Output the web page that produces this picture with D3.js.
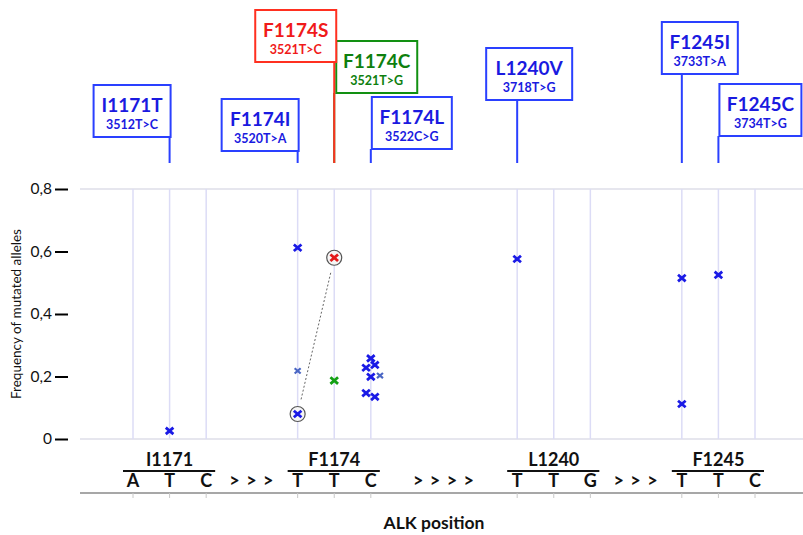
<!DOCTYPE html>
<html>
<head>
<meta charset="utf-8">
<script src="https://cdn.jsdelivr.net/npm/d3@7"></script>
<style>
  html, body { margin: 0; padding: 0; background: #fff; }
  svg { display: block; font-family: Lato, "Open Sans", "DejaVu Sans", sans-serif; }
</style>
</head>
<body>
<svg id="chart" width="803" height="535"></svg>
<script>
// ---------------- DATA ----------------
const nucleotides = ["A","T","C","T","T","C","T","T","G","T","T","C"];
const ntPositions = [0, 1, 2, 4.5, 5.5, 6.5, 10.5, 11.5, 12.5, 15, 16, 17];

const genes = ["I1171", "F1174", "L1240", "F1245"];
const geneStart = [0, 4.5, 10.5, 15];
const geneEnd = [2, 6.5, 12.5, 17];

const separators = ["> > >", "> > > >", "> > >"];
const separatorPos = [3.25, 8.5, 13.75];

const yTicks = [0, 0.2, 0.4, 0.6, 0.8];
const yTickLabels = ["0", "0,2", "0,4", "0,6", "0,8"];

const mutationNames = ["I1171T","F1174I","F1174C","F1174S","F1174L","L1240V","F1245I","F1245C"];
const mutationCodes = ["3512T>C","3520T>A","3521T>G","3521T>C","3522C>G","3718T>G","3733T>A","3734T>G"];
const mutationPos   = [1, 4.5, 5.5, 5.5, 6.5, 10.5, 15, 16];
const mutationType  = ["blue","blue","green","red","blue","blue","blue","blue"];

const pointPos  = [1, 4.5, 4.5, 4.5, 5.5, 5.5, 6.5, 6.37, 6.61, 6.5, 6.75, 6.37, 6.61, 10.5, 15, 15, 16];
const pointFreq = [0.026, 0.612, 0.218, 0.080, 0.580, 0.187, 0.258, 0.228, 0.237, 0.199, 0.203, 0.147, 0.135, 0.576, 0.515, 0.112, 0.525];
const pointType = ["blue","blue","light","blue","red","green","blue","blue","blue","blue","light","blue","blue","blue","blue","blue","blue"];
const circledPoints = [3, 4];       // indices of circled points
const linkedPair = [3, 4];          // dotted line between these

// ---------------- STYLE / LAYOUT ----------------
const colors = { blue: "#1a1ae6", light: "#4a66c4", red: "#e41a1a", green: "#14a014" };
const boxStroke = { blue: "#2a40ff", red: "#ff3020", green: "#129012" };
const boxText = { blue: "#1a1ae0", red: "#f01a1a", green: "#0e800e" };
// box layout: left offset from stem x, width, top y
const boxLayout = [
  { dx: -76, w: 77, top: 85 },
  { dx: -76, w: 77, top: 99 },
  { dx: 2,   w: 81, top: 41 },
  { dx: -79, w: 81, top: 10 },
  { dx: 1,   w: 80, top: 97 },
  { dx: -31, w: 86, top: 48 },
  { dx: -20, w: 76, top: 22 },
  { dx: 1,   w: 82, top: 84 }
];
const boxH = 52;
const stemBottom = 163;

const svg = d3.select("#chart");
const x = d3.scaleLinear().domain([0, 17]).range([133, 755]);
const y = d3.scaleLinear().domain([0, 0.8]).range([439, 189]);

// horizontal lines at 0 and 0.8
svg.append("g").selectAll("line").data([0, 0.8]).join("line")
  .attr("x1", 80).attr("x2", 803)
  .attr("y1", d => y(d)).attr("y2", d => y(d))
  .attr("stroke", "#dedee8").attr("stroke-width", 1.5);

// vertical gridlines
svg.append("g").selectAll("line").data(ntPositions).join("line")
  .attr("x1", d => x(d)).attr("x2", d => x(d))
  .attr("y1", y(0.8)).attr("y2", y(0))
  .attr("stroke", "#dcdcf6").attr("stroke-width", 1.5);

// y axis ticks
const yAxis = d3.axisLeft(y).tickValues(yTicks)
  .tickFormat((d, i) => yTickLabels[i]).tickSize(13).tickPadding(3);
const yg = svg.append("g").attr("transform", "translate(68,0)").call(yAxis);
yg.select(".domain").remove();
yg.selectAll(".tick line").attr("stroke", "#000").attr("stroke-width", 2);
yg.selectAll(".tick text").attr("font-size", 15.5).attr("fill", "#111")
  .attr("font-family", "Lato, 'Open Sans', sans-serif");

// y axis title
svg.append("text")
  .attr("transform", "translate(21,314) rotate(-90)")
  .attr("text-anchor", "middle")
  .attr("font-size", 13.5).attr("fill", "#111")
  .text("Frequency of mutated alleles");

// x axis baseline
svg.append("line").attr("x1", 80).attr("x2", 803).attr("y1", 493).attr("y2", 493)
  .attr("stroke", "#8a8a8a").attr("stroke-width", 1.5);
svg.append("g").selectAll("line").data(ntPositions).join("line")
  .attr("x1", d => x(d)).attr("x2", d => x(d)).attr("y1", 493).attr("y2", 498)
  .attr("stroke", "#c8c8c8").attr("stroke-width", 1);

// gene labels & underlines
genes.forEach((g, i) => {
  svg.append("text").attr("x", (x(geneStart[i]) + x(geneEnd[i])) / 2).attr("y", 466)
    .attr("text-anchor", "middle").attr("font-weight", "bold").attr("font-size", 18)
    .attr("fill", "#111").text(g);
  svg.append("line").attr("x1", x(geneStart[i]) - 10).attr("x2", x(geneEnd[i]) + 9)
    .attr("y1", 471).attr("y2", 471).attr("stroke", "#111").attr("stroke-width", 2);
});
svg.append("g").selectAll("text").data(nucleotides).join("text")
  .attr("x", (d, i) => x(ntPositions[i])).attr("y", 487)
  .attr("text-anchor", "middle").attr("font-weight", "bold").attr("font-size", 18)
  .attr("fill", "#111").text(d => d);
svg.append("g").selectAll("text").data(separators).join("text")
  .attr("x", (d, i) => x(separatorPos[i])).attr("y", 487)
  .attr("text-anchor", "middle").attr("font-weight", "bold").attr("font-size", 18)
  .attr("letter-spacing", 1)
  .attr("fill", "#111").text(d => d);

svg.append("text").attr("x", 434).attr("y", 529).attr("text-anchor", "middle")
  .attr("font-weight", "bold").attr("font-size", 17.5).attr("fill", "#111").text("ALK position");

// mutation label boxes with stems
mutationNames.forEach((name, i) => {
  const sx = x(mutationPos[i]);
  const L = boxLayout[i];
  const t = mutationType[i];
  const g = svg.append("g");
  g.append("line").attr("x1", sx).attr("x2", sx).attr("y1", L.top + boxH).attr("y2", stemBottom)
    .attr("stroke", boxStroke[t]).attr("stroke-width", 2);
  g.append("rect").attr("x", sx + L.dx).attr("y", L.top).attr("width", L.w).attr("height", boxH)
    .attr("fill", "#fff").attr("stroke", boxStroke[t]).attr("stroke-width", 2);
  g.append("text").attr("x", sx + L.dx + L.w / 2).attr("y", L.top + 27)
    .attr("text-anchor", "middle").attr("font-weight", "bold").attr("font-size", 19)
    .attr("fill", boxText[t]).text(name);
  g.append("text").attr("x", sx + L.dx + L.w / 2).attr("y", L.top + 44)
    .attr("text-anchor", "middle").attr("font-weight", "bold").attr("font-size", 12.5)
    .attr("fill", boxText[t]).text(mutationCodes[i]);
});

// dotted link between circled points
{
  const a = linkedPair[0], b = linkedPair[1];
  const x1 = x(pointPos[a]), y1 = y(pointFreq[a]), x2 = x(pointPos[b]), y2 = y(pointFreq[b]);
  const len = Math.hypot(x2 - x1, y2 - y1), ux = (x2 - x1) / len, uy = (y2 - y1) / len, off = 15;
  svg.append("line").attr("x1", x1 + ux * off).attr("y1", y1 + uy * off)
    .attr("x2", x2 - ux * off).attr("y2", y2 - uy * off)
    .attr("stroke", "#666").attr("stroke-width", 1).attr("stroke-dasharray", "2,2");
}

// circles
svg.append("g").selectAll("circle").data(circledPoints).join("circle")
  .attr("cx", i => x(pointPos[i])).attr("cy", i => y(pointFreq[i])).attr("r", 7.5)
  .attr("fill", "#f6f6f6").attr("stroke", "#555").attr("stroke-width", 1.2);

// x markers
const idx = d3.range(pointPos.length);
svg.append("g").selectAll("path").data(idx).join("path")
  .attr("transform", i => `translate(${x(pointPos[i])},${y(pointFreq[i])})`)
  .attr("d", i => {
    const s = pointType[i] === "light" ? 3 : 3.8, h = pointType[i] === "light" ? 2.6 : 3.3;
    return `M${-s},${-h}L${s},${h}M${-s},${h}L${s},${-h}`;
  })
  .attr("stroke", i => colors[pointType[i]])
  .attr("stroke-width", i => pointType[i] === "light" ? 2.2 : 2.8)
  .attr("fill", "none");
</script>
</body>
</html>
